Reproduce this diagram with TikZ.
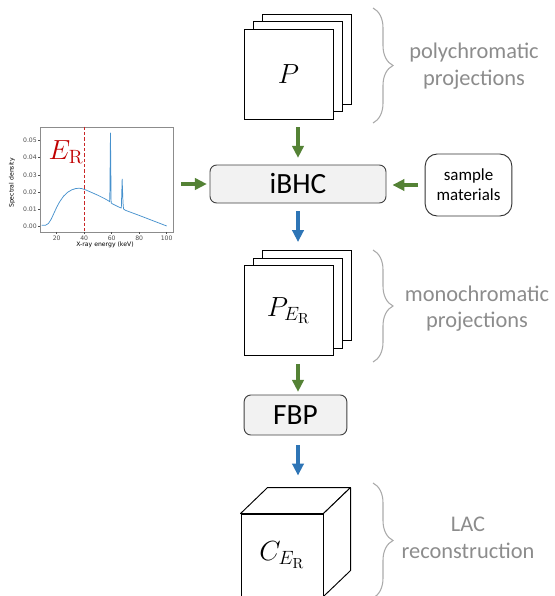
\documentclass[tikz,border=0pt]{standalone}
\usepackage[no-math]{fontspec}
\setmainfont{Carlito}
\newfontfamily\plotfont{DejaVu Sans}
\usetikzlibrary{arrows.meta,decorations.pathreplacing}
\definecolor{arrgreen}{RGB}{84,130,53}
\definecolor{arrblue}{RGB}{46,117,182}
\definecolor{labelgray}{RGB}{140,140,140}
\definecolor{bracegray}{RGB}{170,170,170}
\definecolor{boxgray}{RGB}{242,242,242}
\definecolor{specblue}{RGB}{70,145,205}
\definecolor{refred}{RGB}{192,0,0}
\tikzset{
  sheet/.style={draw, fill=white, line width=0.7pt, minimum width=66.75pt,
    minimum height=67.5pt, inner sep=0pt, font=\fontsize{21}{24}\selectfont},
  procbox/.style={draw=black!75, fill=boxgray, rounded corners=5pt, line width=0.7pt,
    inner sep=0pt, font=\fontsize{22}{26}\selectfont},
  greenarr/.style={arrgreen, line width=3pt, -{Triangle[width=8.5pt,length=9pt]}},
  bluearr/.style={arrblue, line width=3pt, -{Triangle[width=8.5pt,length=9pt]}},
  grpbrace/.style={decorate, decoration={brace, amplitude=15pt}, bracegray, line width=0.8pt},
  grplabel/.style={labelgray, align=center, font=\fontsize{16.8}{20}\selectfont},
  spectick/.style={font=\plotfont\fontsize{4.6}{5.5}\selectfont, inner sep=1pt},
}
\begin{document}
\begin{tikzpicture}[x=0.75pt, y=-0.75pt]
  \useasboundingbox (0,0) rectangle (554,596);

  % projection stacks
  \draw
    (306.5,59) node[sheet] (p3){}
    (297.5,66.5) node[sheet] (p2){}
    (288.5,74) node[sheet] (p1){$P$};
  \draw
    (306.5,295.5) node[sheet] (pe3){}
    (297.5,303) node[sheet] (pe2){}
    (288.5,310.5) node[sheet] (pe1){$P_{E_{\mathrm{R}}}$};

  % processing boxes
  \node[procbox, minimum width=132pt, minimum height=28.5pt] (ibhc) at (298,184) {iBHC};
  \node[procbox, minimum width=77pt, minimum height=30pt] (fbp) at (295.5,415) {FBP};
  \node[draw=black!80, fill=white, rounded corners=9pt, line width=0.7pt,
    minimum width=65pt, minimum height=46.5pt, align=center, inner sep=0pt,
    font=\fontsize{12.7}{15}\selectfont] (mat) at (468.5,185) {sample\\materials};

  % cube
  \node[draw, fill=white, line width=0.7pt, minimum size=61.5pt, inner sep=0pt,
    font=\fontsize{21}{24}\selectfont] (cube) at (282,555) {$C_{E_{\mathrm{R}}}$};
  \draw[line width=0.7pt, fill=white, line join=round]
    (cube.north west) -- ++(27,-26) coordinate (cubetop) -- ++(83,0) coordinate (cubeback)
    -- (cube.north east) -- cycle;
  \draw[line width=0.7pt, fill=white, line join=round]
    (cube.north east) -- (cubeback) -- ++(0,83) -- (cube.south east) -- cycle;

  % spectrum inset
  \node[draw=black!45, line width=0.5pt, minimum width=99.2pt, minimum height=78.75pt,
    inner sep=0pt] (spec) at (106.85,179.5) {};
  \begin{scope}[xshift=21.9pt, yshift=-169.5pt, x=1.03125pt, y=12.795pt]
    \foreach \v/\t in {0/0.00,1/0.01,2/0.02,3/0.03,4/0.04,5/0.05}
      \draw[black!70, line width=0.4pt] (spec.west |- 0,\v) -- ++(-1.5pt,0)
        node[spectick, left] {\t};
    \foreach \e in {20,40,60,80,100}
      \draw[black!70, line width=0.4pt] (\e,0 |- spec.south) -- ++(0,-1.5pt)
        node[spectick, below] {\e};
    \draw[refred!85, dashed, dash pattern=on 2.5pt off 1.5pt, line width=0.8pt]
      (40,0 |- spec.north) -- (40,0 |- spec.south);
    \draw[specblue, line width=0.55pt, line join=round] plot coordinates {
      (9,0.05) (12,0.05) (14,0.15) (16,0.4) (18,0.75) (20,1.1) (22,1.4) (25,1.75)
      (28,1.98) (31,2.12) (34,2.2) (36,2.21) (38,2.2) (41,2.12) (45,1.98) (50,1.8)
      (55,1.6) (58,1.46) (58.6,1.42) (59.1,5.45) (59.6,1.35) (60.5,1.3) (65,1.12)
      (67,1.05) (67.6,2.75) (68.2,1.4) (68.6,1.0) (70,0.92) (80,0.62) (90,0.31) (100,0.0)};
  \end{scope}
  \node[spectick, rotate=90] (ylab) at (12,183) {Spectral density};
  \node[spectick] (xlab) at (105,245) {X-ray energy (keV)};
  \node[refred, font=\fontsize{20}{24}\selectfont] (er) at (66,152) {$E_{\mathrm{R}}$};

  % braces and group labels
  \draw[grpbrace] (373,8) -- (373,123);
  \draw[grpbrace] (373,250) -- (373,362);
  \draw[grpbrace] (373,483) -- (373,598);
  \node[grplabel] (poly) at (474,66) {polychromatic\\projections};
  \node[grplabel] (mono) at (477,308.5) {monochromatic\\projections};
  \node[grplabel] (lac) at (468,537.5) {LAC\\reconstruction};

  % flow arrows
  \begin{scope}[shorten <=6pt]
    \draw[greenarr, shorten >=5pt] (p1.south -| ibhc) -- (ibhc.north);
    \draw[greenarr, shorten >=2pt] (spec.east |- ibhc) -- (ibhc.west);
    \draw[greenarr, shorten >=4.5pt, shorten <=5pt] (mat.west) -- (mat.west -| ibhc.east);
    \draw[bluearr, shorten >=6pt] (ibhc.south) -- (ibhc.south |- pe3.north);
    \draw[greenarr, shorten >=2pt] (pe1.south -| ibhc) -- (ibhc |- fbp.north);
    \draw[bluearr, shorten >=9pt, shorten <=7.5pt] (fbp.south -| ibhc) -- (ibhc |- cubetop);
  \end{scope}
\end{tikzpicture}
\end{document}
